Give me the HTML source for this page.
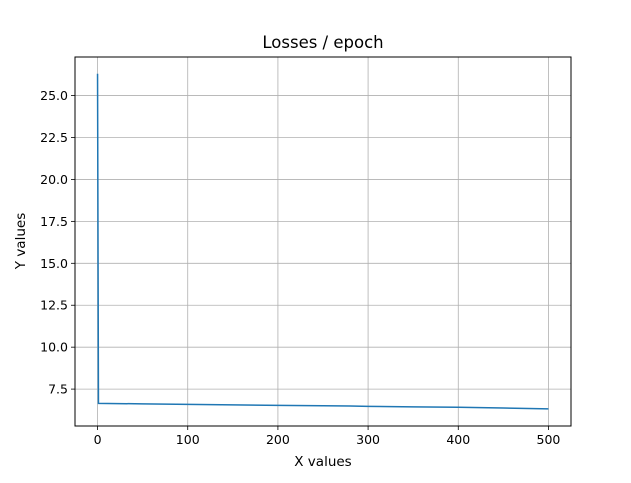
<!DOCTYPE html>
<html><head><meta charset="utf-8"><style>
body{margin:0;background:#fff;}
svg text{font-family:"DejaVu Sans","Liberation Sans",sans-serif;fill:#000;}
</style></head><body>
<svg id="chart" width="631" height="478" xmlns="http://www.w3.org/2000/svg">
<rect width="631" height="478" fill="#fff"/>
<g id="grid"></g><g id="series"></g><g id="axes"></g>
<text x="323" y="48" font-size="16.5" text-anchor="middle">Losses / epoch</text>
<text x="323" y="466" font-size="13.5" text-anchor="middle">X values</text>
<text transform="translate(25,241) rotate(-90)" font-size="13.5" text-anchor="middle">Y values</text>
</svg>
<script>
const epochs=[0,1,50,100,150,200,250,280,300,350,400,450,500];
const losses=[26.3,6.65,6.62,6.59,6.56,6.53,6.51,6.49,6.47,6.44,6.42,6.37,6.32];
const xTicks=[0,100,200,300,400,500];
const yTicks=[7.5,10.0,12.5,15.0,17.5,20.0,22.5,25.0];
const L=75,R=571,T=57,B=426,xmin=-25,xmax=525,ymin=5.3,ymax=27.3;
const sx=v=>L+(v-xmin)/(xmax-xmin)*(R-L);
const sy=v=>B-(v-ymin)/(ymax-ymin)*(B-T);
const NS="http://www.w3.org/2000/svg";
function mk(tag,attrs,parent){const e=document.createElementNS(NS,tag);for(const k in attrs)e.setAttribute(k,attrs[k]);parent.appendChild(e);return e;}
const grid=document.getElementById('grid'),axes=document.getElementById('axes'),series=document.getElementById('series');
xTicks.forEach(t=>{
 const x=sx(t);
 const g=mk('line',{x1:x,x2:x,y1:T,y2:B,stroke:'#b0b0b0','stroke-width':0.8},grid);
 
 
 mk('line',{x1:x,x2:x,y1:B,y2:B+4,stroke:'#000','stroke-width':0.8},axes);
 const tx=mk('text',{x:x,y:B+18,'font-size':12.5,'text-anchor':'middle'},axes);
 tx.textContent=t;
 
 
});
yTicks.forEach(t=>{
 const y=sy(t);
 const g=mk('line',{x1:L,x2:R,y1:y,y2:y,stroke:'#b0b0b0','stroke-width':0.8},grid);
 
 
 mk('line',{x1:L-4,x2:L,y1:y,y2:y,stroke:'#000','stroke-width':0.8},axes);
 const tx=mk('text',{x:L-7,y:y+4.5,'font-size':12.5,'text-anchor':'end'},axes);
 tx.textContent=t.toFixed(1);
 
 
});
const fr=mk('rect',{x:L,y:T,width:R-L,height:B-T,fill:'none',stroke:'#000','stroke-width':1},axes);


const pl=mk('polyline',{points:epochs.map((e,i)=>sx(e)+','+sy(losses[i])).join(' '),fill:'none',stroke:'#1f77b4','stroke-width':1.5},series);


</script>
</body></html>
